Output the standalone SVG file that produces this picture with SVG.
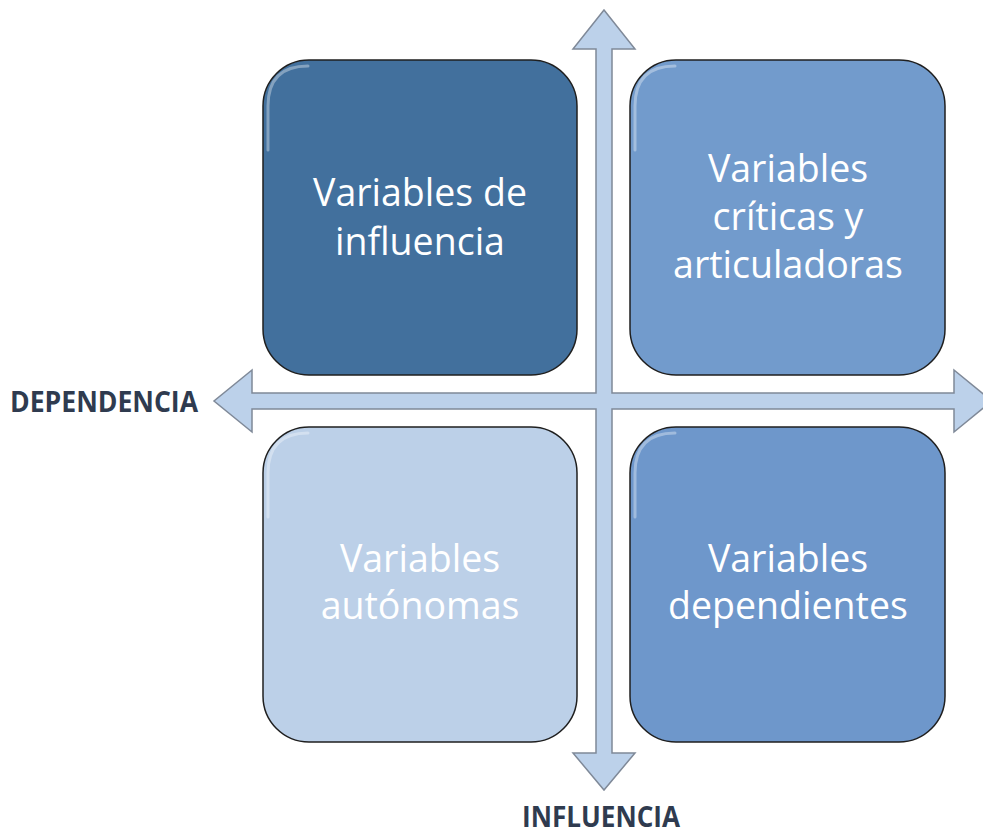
<svg xmlns="http://www.w3.org/2000/svg" width="983" height="837" viewBox="0 0 983 837">
<defs>
<style>
.box{stroke:#1f1f1f;stroke-width:1.5}
.hl{fill:none;stroke:#ffffff;stroke-opacity:0.35;stroke-width:3;stroke-linecap:round}
.t{font-family:"Open Sans","Liberation Sans",sans-serif;font-size:37.5px;fill:#ffffff;text-anchor:middle}
.lab{font-family:"Open Sans","Liberation Sans",sans-serif;font-size:29px;font-weight:bold;fill:#2f3b4f}
.arr{fill:#bcd1ea;stroke:#7f8998;stroke-width:1.5;stroke-linejoin:miter}
</style>
</defs>
<g id="connectors">
<path class="arr" d="M604,10 L635,49 L612,49 L612,393 L954,393 L954,370 L992,401 L954,432 L954,409 L612,409 L612,753 L635,753 L604,790 L573,753 L596,753 L596,409 L252,409 L252,432 L214,401 L252,370 L252,393 L596,393 L596,49 L573,49 Z"/>
</g>
<g id="node-influencia">
<rect class="box" x="263" y="60" width="314" height="315" rx="46" fill="#42709d"/>
<path class="hl" d="M268,150 L268,106 Q268,66 308,66"/>
<text class="t" x="420" y="206">Variables de</text>
<text class="t" x="420" y="255">influencia</text>
</g>
<g id="node-criticas">
<rect class="box" x="630" y="60" width="315" height="315" rx="46" fill="#729bcc"/>
<path class="hl" d="M635,150 L635,106 Q635,66 675,66"/>
<text class="t" x="788" y="182">Variables</text>
<text class="t" x="788" y="230">críticas y</text>
<text class="t" x="788" y="278">articuladoras</text>
</g>
<g id="node-autonomas">
<rect class="box" x="263" y="427" width="314" height="315" rx="46" fill="#bcd0e8"/>
<path class="hl" d="M268,517 L268,473 Q268,433 308,433"/>
<text class="t" x="420" y="572">Variables</text>
<text class="t" x="420" y="619">autónomas</text>
</g>
<g id="node-dependientes">
<rect class="box" x="630" y="427" width="315" height="315" rx="46" fill="#6e97cb"/>
<path class="hl" d="M635,517 L635,473 Q635,433 675,433"/>
<text class="t" x="788" y="572">Variables</text>
<text class="t" x="788" y="619">dependientes</text>
</g>
<g id="labels">
<text class="lab" x="10" y="412" textLength="188" lengthAdjust="spacingAndGlyphs">DEPENDENCIA</text>
<text class="lab" x="522" y="827" textLength="158" lengthAdjust="spacingAndGlyphs">INFLUENCIA</text>
</g>
</svg>
